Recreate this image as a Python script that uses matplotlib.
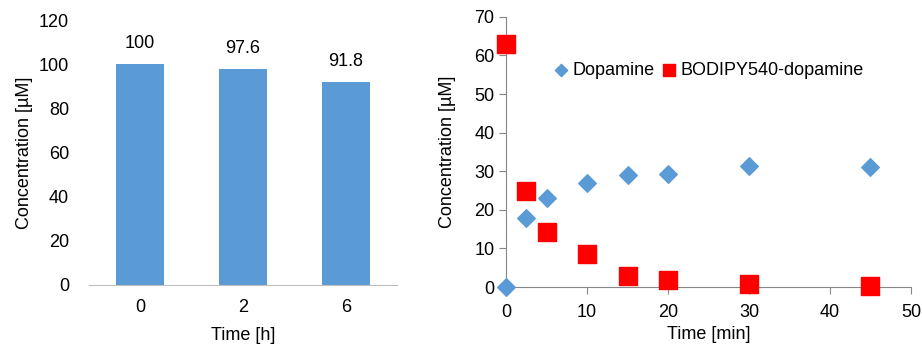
import numpy as np
import matplotlib
matplotlib.use("Agg")
from matplotlib import pyplot as plt

plt.rcParams['font.family'] = ['Liberation Sans', 'DejaVu Sans']
plt.rcParams['font.size'] = 13

# left panel: bars
bar_labels = ['0', '2', '6']
bar_values = [100, 97.6, 91.8]

# right panel: time course
time_min = [0, 2.5, 5, 10, 15, 20, 30, 45]
dopamine = [0, 17.9, 23.2, 27.0, 29.0, 29.2, 31.4, 31.0]
bodipy = [63.1, 24.9, 14.3, 8.5, 2.9, 1.7, 0.7, 0.3]

blue = '#5B9BD5'
red = '#FF0000'
grey = '#868686'

fig = plt.figure(figsize=(9.22, 3.45), dpi=100)

ax1 = fig.add_axes([0.096, 0.174, 0.335, 0.768])
x = np.arange(len(bar_labels))
ax1.bar(x, bar_values, width=0.46, color=blue)
ax1.set_xlim(-0.5, len(bar_labels) - 0.5)
ax1.set_ylim(0, 120)
ax1.set_yticks(range(0, 121, 20))
ax1.set_xticks(x)
ax1.set_xticklabels(bar_labels)
for xi, v in zip(x, bar_values):
    ax1.annotate(f'{v:g}', (xi, v), xytext=(0, 9), textcoords='offset points',
                 ha='center', va='bottom')
for s in ['top', 'right', 'left']:
    ax1.spines[s].set_visible(False)
ax1.spines['bottom'].set_color('#BFBFBF')
ax1.tick_params(axis='both', length=0)
ax1.tick_params(axis='x', pad=10)
ax1.tick_params(axis='y', pad=14)
ax1.set_xlabel('Time [h]', labelpad=8)
ax1.set_ylabel('Concentration [µM]', labelpad=4)

ax2 = fig.add_axes([0.549, 0.168, 0.439, 0.783])
ax2.scatter(time_min, dopamine, marker='D', s=80, color=blue, label='Dopamine',
            zorder=3, clip_on=False)
ax2.scatter(time_min, bodipy, marker='s', s=150, color=red, label='BODIPY540-dopamine',
            zorder=3, clip_on=False)
ax2.set_xlim(0, 50)
ax2.set_ylim(0, 70)
ax2.set_xticks(range(0, 51, 10))
ax2.set_yticks(range(0, 71, 10))
for s in ['top', 'right']:
    ax2.spines[s].set_visible(False)
for s in ['left', 'bottom']:
    ax2.spines[s].set_color(grey)
ax2.tick_params(axis='both', direction='out', length=5, color=grey)
ax2.tick_params(axis='x', pad=7)
ax2.set_xlabel('Time [min]', labelpad=4)
ax2.set_ylabel('Concentration [µM]', labelpad=13)
ax2.legend(loc='upper left', bbox_to_anchor=(0.095, 0.86), ncol=2, frameon=False,
           handlelength=1.0, handletextpad=0.15, columnspacing=0.3,
           markerscale=0.7, borderaxespad=0)

fig.savefig('out.png', dpi=100)
